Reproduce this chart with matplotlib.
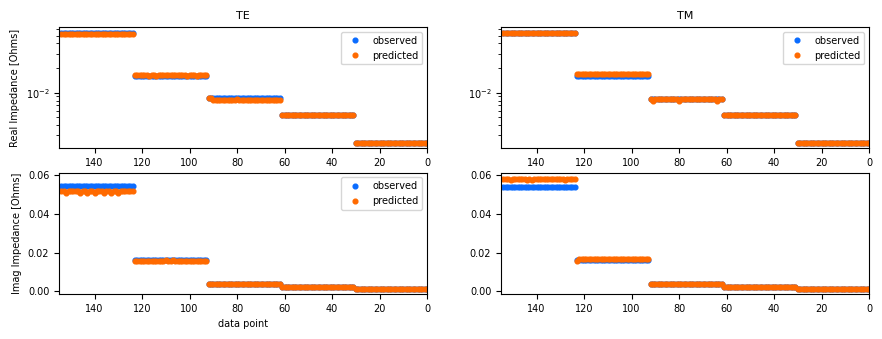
import matplotlib.pyplot as plt
import numpy as np

# 5 frequencies x 31 stations, ordered so that data point 0 is the
# highest-frequency / lowest-impedance block
n_stations = 31
points = np.arange(5 * n_stations)

# per-frequency impedance levels (Ohms)
te_real_obs = [0.00243, 0.00535, 0.0085, 0.0161, 0.0545]
te_real_pred = [0.00243, 0.00535, 0.0082, 0.0166, 0.0525]
tm_real_obs = [0.00243, 0.00535, 0.0083, 0.0162, 0.0545]
tm_real_pred = [0.00243, 0.00535, 0.0083, 0.0167, 0.0542]
te_imag_obs = [0.00134, 0.0022, 0.0036, 0.0163, 0.0543]
te_imag_pred = [0.00134, 0.0022, 0.0036, 0.0157, 0.0519]
tm_imag_obs = [0.00134, 0.0022, 0.0036, 0.0160, 0.0541]
tm_imag_pred = [0.00134, 0.0022, 0.0036, 0.0164, 0.0583]

# single stations where the prediction departs from its block level
te_real_pred_off = {117: 0.0160, 114: 0.0160, 101: 0.0160, 97: 0.0160,
                    92: 0.0085, 91: 0.0085, 80: 0.0084}
tm_real_pred_off = {91: 0.0080, 80: 0.0080, 64: 0.0080}
te_imag_pred_off = {152: 0.0511, 146: 0.0511, 143: 0.0511, 140: 0.0511,
                    136: 0.0511, 133: 0.0511, 130: 0.0511,
                    110: 0.0162, 107: 0.0162}
tm_imag_pred_off = {151: 0.0578, 144: 0.0578, 142: 0.0578, 128: 0.0578,
                    123: 0.0158}


def expand(levels, offsets=None):
    vals = np.repeat(np.array(levels, dtype=float), n_stations)
    for i, v in (offsets or {}).items():
        vals[i] = v
    return vals


obs_color = "#0a6cff"
pred_color = "#ff6a00"

plt.rcParams["font.size"] = 7
fig, axs = plt.subplots(2, 2, figsize=(8.82, 3.39), dpi=100)
fig.subplots_adjust(left=0.0669, right=0.9853, bottom=0.1327, top=0.9204,
                    wspace=0.201, hspace=0.2)

panels = [
    (axs[0, 0], te_real_obs, te_real_pred, te_real_pred_off),
    (axs[0, 1], tm_real_obs, tm_real_pred, tm_real_pred_off),
    (axs[1, 0], te_imag_obs, te_imag_pred, te_imag_pred_off),
    (axs[1, 1], tm_imag_obs, tm_imag_pred, tm_imag_pred_off),
]
for ax, obs, pred, off in panels:
    ax.plot(points, expand(obs), "o", ms=3.4, color=obs_color,
            label="observed")
    ax.plot(points, expand(pred, off), "o", ms=3.4, color=pred_color,
            label="predicted")
    ax.set_xlim(155, 0)

axs[0, 1].sharey(axs[0, 0])
axs[1, 1].sharey(axs[1, 0])
axs[0, 0].set_yscale("log")
axs[0, 0].autoscale(axis="y")
axs[1, 0].set_ylim(-0.0015, 0.0614)

axs[0, 0].set_title("TE", fontsize=8)
axs[0, 1].set_title("TM", fontsize=8)
axs[0, 0].set_ylabel("Real Impedance [Ohms]")
axs[1, 0].set_ylabel("Imag Impedance [Ohms]")
axs[1, 0].set_xlabel("data point")
axs[1, 0].set_yticks([0.0, 0.02, 0.04, 0.06])

for ax in (axs[0, 0], axs[0, 1], axs[1, 0]):
    ax.legend(loc="upper right", fontsize=7)

fig.savefig("out.png")
